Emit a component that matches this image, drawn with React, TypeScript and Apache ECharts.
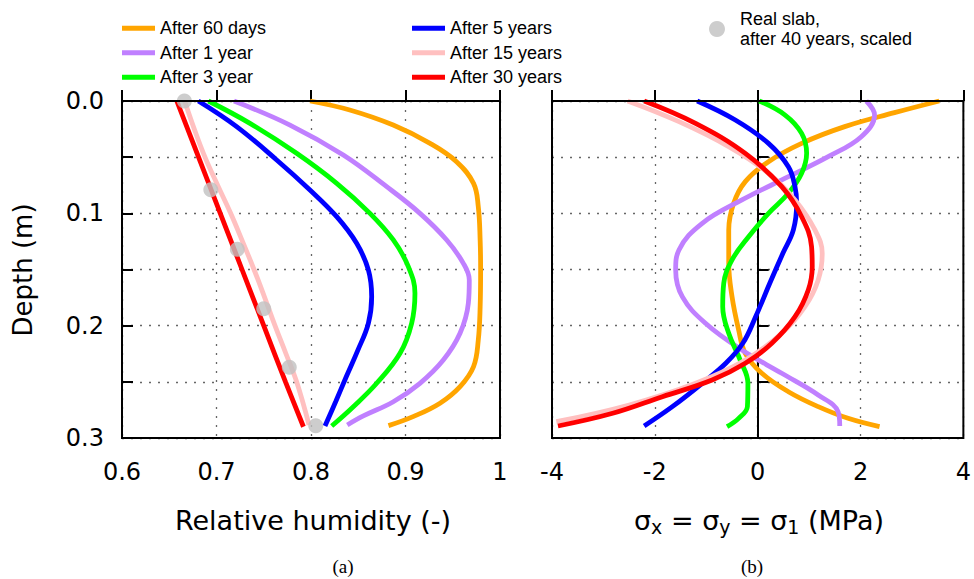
import React, { useEffect, useRef } from "react";
import * as echarts from "echarts";

type Pt = [number, number];

const seriesNames = [
  "After 60 days",
  "After 1 year",
  "After 3 year",
  "After 5 years",
  "After 15 years",
  "After 30 years",
];
const seriesColors = ["#ffa500", "#c080ff", "#00ff00", "#0000ff", "#ffc0c0", "#ff0000"];
const slabName = "Real slab,\nafter 40 years, scaled";

// (a) relative humidity profiles: [relative humidity, depth (m)]
const rh60Days: Pt[] = [
  [0.799, 0], [0.841, 0.008], [0.887, 0.0214], [0.926, 0.0377], [0.954, 0.054],
  [0.972, 0.0733], [0.977, 0.094], [0.979, 0.124], [0.9795, 0.15], [0.979, 0.183],
  [0.977, 0.213], [0.972, 0.2365], [0.958, 0.254], [0.9365, 0.269], [0.908, 0.281], [0.882, 0.289],
];
const rh1Year: Pt[] = [
  [0.7185, 0], [0.7778, 0.0214], [0.8342, 0.0481], [0.8801, 0.0763], [0.9153, 0.1],
  [0.9436, 0.1237], [0.9612, 0.1445], [0.9675, 0.1593], [0.9665, 0.1801], [0.9577, 0.2068],
  [0.94, 0.2306], [0.9153, 0.2513], [0.8871, 0.2677], [0.8554, 0.2804], [0.8384, 0.2884],
];
const rh3Year: Pt[] = [
  [0.6914, 0], [0.7354, 0.0199], [0.7848, 0.0466], [0.8272, 0.0733], [0.8624, 0.1],
  [0.8871, 0.1237], [0.903, 0.1475], [0.91, 0.1712], [0.9065, 0.1979], [0.8942, 0.2246],
  [0.8695, 0.2513], [0.8448, 0.2721], [0.8219, 0.2893],
];
const rh5Years: Pt[] = [
  [0.6808, 0], [0.7213, 0.0228], [0.7637, 0.0525], [0.7989, 0.0792], [0.8272, 0.103],
  [0.8483, 0.1267], [0.8607, 0.1504], [0.8642, 0.1742], [0.8607, 0.1979], [0.8495, 0.222],
  [0.8373, 0.2455], [0.8262, 0.2675], [0.8148, 0.2893],
];
const rh15Years: Pt[] = [
  [0.6663, 0], [0.6765, 0.025], [0.6878, 0.05], [0.7012, 0.075], [0.715, 0.1], [0.7275, 0.125],
  [0.7397, 0.15], [0.751, 0.175], [0.7619, 0.2], [0.7735, 0.225], [0.7848, 0.25], [0.7979, 0.2884],
];
const rh30Years: Pt[] = [
  [0.658, 0], [0.681, 0.05], [0.704, 0.1], [0.727, 0.15], [0.75, 0.2], [0.773, 0.25], [0.792, 0.29],
];
const rhRealSlab: Pt[] = [
  [0.666, 0], [0.694, 0.079], [0.722, 0.132], [0.75, 0.185], [0.777, 0.237], [0.805, 0.289],
];

// (b) stress profiles: [sigma (MPa), depth (m)]
const st60Days: Pt[] = [
  [3.531, 0], [2.66, 0.0104], [1.693, 0.0228], [0.855, 0.0377], [0.21, 0.054],
  [-0.241, 0.0718], [-0.467, 0.0911], [-0.563, 0.1148], [-0.563, 0.1445], [-0.499, 0.1742],
  [-0.37, 0.2039], [-0.241, 0.2246], [0.081, 0.2424], [0.597, 0.2588], [1.177, 0.2721],
  [1.758, 0.2825], [2.37, 0.2899],
];
const st1Year: Pt[] = [
  [2.112, 0], [2.273, 0.0125], [2.015, 0.0318], [1.371, 0.0496], [0.597, 0.0674],
  [-0.306, 0.0881], [-1.079, 0.1089], [-1.531, 0.1326], [-1.595, 0.1504], [-1.466, 0.1742],
  [-1.015, 0.1979], [-0.306, 0.2217], [0.468, 0.2424], [1.177, 0.2617], [1.564, 0.2766], [1.596, 0.2893],
];
const st3Year: Pt[] = [
  [0.03, 0], [0.533, 0.0125], [0.855, 0.0288], [0.952, 0.0466], [0.855, 0.0644],
  [0.597, 0.0822], [0.21, 0.1], [-0.177, 0.1208], [-0.499, 0.1415], [-0.66, 0.1623],
  [-0.68, 0.1831], [-0.563, 0.2068], [-0.34, 0.2306], [-0.19, 0.2513], [-0.2, 0.2721],
  [-0.37, 0.2825], [-0.596, 0.2899],
];
const st5Years: Pt[] = [
  [-1.176, 0], [-0.435, 0.0169], [0.21, 0.0377], [0.597, 0.0585], [0.726, 0.0763],
  [0.758, 0.0911], [0.694, 0.1148], [0.49, 0.1356], [0.235, 0.1623], [-0.04, 0.192],
  [-0.29, 0.2157], [-0.62, 0.2335], [-1.079, 0.2513], [-1.66, 0.2721], [-2.208, 0.2893],
];
const st15Years: Pt[] = [
  [-2.53, 0], [-1.531, 0.0184], [-0.563, 0.0407], [0.21, 0.0644], [0.726, 0.0881],
  [1.113, 0.1148], [1.255, 0.1356], [1.177, 0.1593], [0.919, 0.1831], [0.468, 0.2068],
  [-0.241, 0.2306], [-1.208, 0.2513], [-2.498, 0.2706], [-3.916, 0.2855],
];
const st30Years: Pt[] = [
  [-2.208, 0], [-1.208, 0.0199], [-0.241, 0.0466], [0.468, 0.0763], [0.855, 0.103],
  [1.048, 0.1297], [1.061, 0.1475], [0.984, 0.1682], [0.726, 0.192], [0.275, 0.2157],
  [-0.241, 0.2335], [-0.886, 0.2484], [-1.853, 0.2632], [-2.82, 0.278], [-3.884, 0.2893],
];

const rhSeries = [rh60Days, rh1Year, rh3Year, rh5Years, rh15Years, rh30Years];
const stSeries = [st60Days, st1Year, st3Year, st5Years, st15Years, st30Years];

const depthTicks = [0, 0.1, 0.2, 0.3];

const tickFont = { fontFamily: "DejaVu Sans", fontSize: 24, color: "#000" };
const splitStyle = { show: true, lineStyle: { color: "#666", type: [2, 7] as number[], width: 1.3 } };
const axisLineStyle = { show: true, lineStyle: { color: "#000", width: 2 } };
const tickStyle = { show: true, inside: true, length: 11, lineStyle: { color: "#000", width: 2 } };

export default function App() {
  const ref = useRef<HTMLDivElement>(null);

  useEffect(() => {
    document.body.style.margin = "0";
    if (!ref.current) return;
    const chart = echarts.init(ref.current, null, { renderer: "svg" });

    const depthLabel = (v: number) => {
      const r = Math.round(v * 100) / 100;
      return depthTicks.some((t) => Math.abs(t - r) < 1e-6) ? r.toFixed(1) : "";
    };

    const lineSeries = (data: Pt[], i: number, axis: number) => ({
      type: "line",
      name: seriesNames[i],
      xAxisIndex: axis,
      yAxisIndex: axis,
      data,
      smooth: 0.4,
      symbol: "none",
      clip: false,
      color: seriesColors[i],
      lineStyle: { color: seriesColors[i], width: 4.8 },
      z: 2 + i,
    });

    const legendText = { fontFamily: "Liberation Sans", fontSize: 18, color: "#000", lineHeight: 24.5 };

    const option: any = {
      animation: false,
      backgroundColor: "#fff",
      grid: [
        { left: 122, top: 101, width: 378, height: 337, show: true, borderColor: "#000", borderWidth: 2, z: 20 },
        { left: 552, top: 101, width: 414, height: 337, show: true, borderColor: "#000", borderWidth: 2, z: 20 },
      ],
      xAxis: [
        {
          type: "value", gridIndex: 0, min: 0.6, max: 1.0, interval: 0.1,
          axisLine: axisLineStyle, axisTick: tickStyle, splitLine: splitStyle,
          axisLabel: {
            ...tickFont, margin: 22,
            formatter: (v: number) => (Math.abs(v - 1) < 1e-6 ? "1" : v.toFixed(1)),
          },
        },
        {
          type: "value", gridIndex: 1, min: -4, max: 4, interval: 2,
          axisLine: axisLineStyle, axisTick: tickStyle, splitLine: splitStyle,
          axisLabel: { ...tickFont, margin: 22, formatter: (v: number) => String(v) },
        },
      ],
      yAxis: [
        {
          type: "value", gridIndex: 0, inverse: true, min: 0, max: 0.3, interval: 0.05,
          axisLine: axisLineStyle, axisTick: tickStyle, splitLine: splitStyle,
          axisLabel: { ...tickFont, margin: 18, formatter: depthLabel },
        },
        {
          type: "value", gridIndex: 1, inverse: true, min: 0, max: 0.3, interval: 0.05,
          axisLine: axisLineStyle, axisTick: tickStyle, splitLine: splitStyle,
          axisLabel: { show: false },
        },
      ],
      legend: [
        {
          data: seriesNames.slice(0, 3), orient: "vertical", left: 117, top: 11,
          icon: "rect", itemWidth: 33, itemHeight: 5, itemGap: 0, selectedMode: false,
          textStyle: legendText,
        },
        {
          data: seriesNames.slice(3, 6), orient: "vertical", left: 407, top: 11,
          icon: "rect", itemWidth: 33, itemHeight: 5, itemGap: 0, selectedMode: false,
          textStyle: legendText,
        },
        {
          data: [slabName], orient: "vertical", left: 704, top: 4,
          icon: "circle", itemWidth: 16, itemHeight: 16, selectedMode: false,
          textStyle: { fontFamily: "Liberation Sans", fontSize: 18, color: "#000", lineHeight: 20, padding: [0, 0, 0, 10] },
        },
      ],
      series: [
        ...rhSeries.map((d, i) => lineSeries(d, i, 0)),
        {
          type: "scatter",
          name: slabName,
          xAxisIndex: 0,
          yAxisIndex: 0,
          data: rhRealSlab,
          symbol: "circle",
          symbolSize: 15,
          clip: false,
          itemStyle: { color: "#c0c0c0" },
          z: 10,
        },
        ...stSeries.map((d, i) => lineSeries(d, i, 1)),
      ],
      graphic: [
        {
          type: "text", x: 23, y: 270, rotation: Math.PI / 2,
          style: { text: "Depth (m)", fontFamily: "DejaVu Sans", fontSize: 26, fill: "#000", align: "center", verticalAlign: "middle" },
        },
        {
          type: "text", x: 313, y: 520,
          style: { text: "Relative humidity (-)", fontFamily: "DejaVu Sans", fontSize: 27, fill: "#000", align: "center", verticalAlign: "middle" },
        },
        {
          type: "text", x: 759, y: 520,
          style: {
            text: "{m|σ}{s|x}{m| = σ}{s|y}{m| = σ}{s|1}{m| (MPa)}",
            align: "center", verticalAlign: "middle", fill: "#000",
            rich: {
              m: { fontFamily: "DejaVu Sans", fontSize: 27, lineHeight: 32, fill: "#000" },
              s: { fontFamily: "DejaVu Sans", fontSize: 19, lineHeight: 19, verticalAlign: "bottom", fill: "#000" },
            },
          },
        },
        {
          type: "text", x: 343, y: 566,
          style: { text: "(a)", fontFamily: "Liberation Serif", fontSize: 19, fill: "#000", align: "center", verticalAlign: "middle" },
        },
        {
          type: "text", x: 752, y: 566,
          style: { text: "(b)", fontFamily: "Liberation Serif", fontSize: 19, fill: "#000", align: "center", verticalAlign: "middle" },
        },
      ],
    };

    chart.setOption(option);
    return () => chart.dispose();
  }, []);

  return <div ref={ref} style={{ position: "absolute", left: 0, top: 0, width: 974, height: 579 }} />;
}
